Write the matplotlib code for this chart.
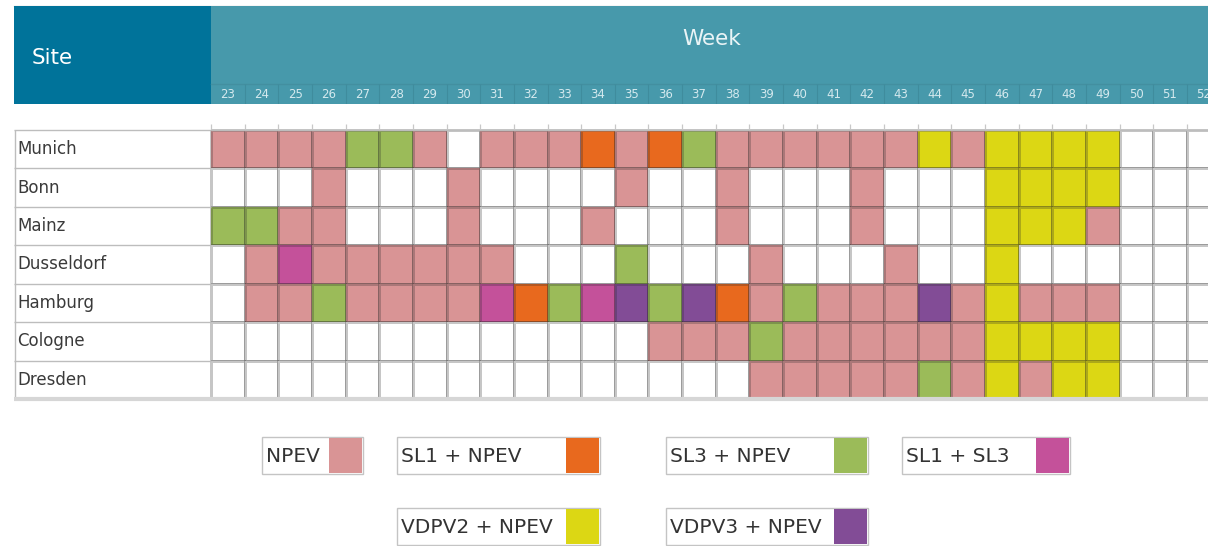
import numpy as np
import matplotlib
matplotlib.use("Agg")
import matplotlib.pyplot as plt
from matplotlib.colors import ListedColormap
from matplotlib.patches import Rectangle

plt.rcParams['font.family'] = ['DejaVu Sans']

# --- data -------------------------------------------------------------
weeks = list(range(23, 53))
sites = ["Munich", "Bonn", "Mainz", "Dusseldorf", "Hamburg", "Cologne", "Dresden"]

# codes: . none, N NPEV, O SL1+NPEV, G SL3+NPEV, M SL1+SL3, Y VDPV2+NPEV, P VDPV3+NPEV
# one character per week, weeks 23..52
munich     = "NNNNGGN.NNNONOGNNNNNNYNYYYY..."
bonn       = "...N...N....N..N...N...YYYY..."
mainz      = "GGNN...N...N...N...N...YYYN..."
dusseldorf = ".NMNNNNNN...G...N...N..Y......"
hamburg    = ".NNGNNNNMOGMPGPONGNNNPNYNNN..."
cologne    = ".............NNNGNNNNNNYYYY..."
dresden    = "................NNNNNGNYNYY..."

codes = ".NOGMYP"
category_labels = ["NPEV", "SL1 + NPEV", "SL3 + NPEV", "SL1 + SL3",
                   "VDPV2 + NPEV", "VDPV3 + NPEV"]
category_colors = ["#d99495", "#e8691e", "#9bbb59", "#c4519a",
                   "#dcd714", "#824c96"]

rows = [munich, bonn, mainz, dusseldorf, hamburg, cologne, dresden]
matrix = np.array([[codes.index(c) for c in r] for r in rows])

# --- layout -----------------------------------------------------------
W, H = 1208, 546
fig = plt.figure(figsize=(W / 100, H / 100), dpi=100)
fig.patch.set_facecolor("white")

col_px = 33.65
row_px = 38.43
x_left = 22.5 - (211 - 14) / col_px
x_right = 22.5 + (W - 211) / col_px

# background overlay in pixel coordinates (legend, frame)
bg = fig.add_axes([0, 0, 1, 1])
bg.set_xlim(0, W)
bg.set_ylim(H, 0)
bg.axis("off")
bg.axhline(5.5, xmin=14 / W, color="#d5d5d5", lw=1)

# header
hdr = fig.add_axes([14 / W, 1 - 104 / H, (W - 14) / W, 98 / H])
hdr.set_xlim(x_left, x_right)
hdr.set_ylim(0, 98)
hdr.axis("off")
hdr.axvspan(x_left, 22.5, color="#00739a", lw=0)
hdr.axvspan(22.5, x_right, color="#4799ab", lw=0)
hdr.axhline(20, xmin=(22.5 - x_left) / (x_right - x_left), color="#438fa0", lw=1)
hdr.vlines(np.array(weeks[:-1]) + 0.5, 0, 20, color="#3f8c9d", lw=0.8)
hdr.text(17.78, 46, "Site", color="white", fontsize=15.5, va="center", ha="center")
hdr.text(37.39, 65, "Week", color="#eaf4f6", fontsize=15.5, va="center", ha="center")
for w in weeks:
    hdr.text(w, 10, str(w), color="#d4e9ee", fontsize=8.5, ha="center", va="center")

# grid
top_px, bot_px = 124, 402
gax = fig.add_axes([14 / W, 1 - bot_px / H, (W - 14) / W, (bot_px - top_px) / H])
gax.set_xlim(x_left, x_right)
gax.set_ylim(6.5 + (bot_px - 399) / row_px, -0.5 - (130 - top_px) / row_px)
gax.axis("off")

cmap = ListedColormap(["white"] + category_colors)
xe = np.arange(22.5, 53.5, 1)
ye = np.arange(-0.5, 7.5, 1)
gax.pcolormesh(xe, ye, matrix, cmap=cmap, vmin=-0.5, vmax=6.5,
               edgecolors=(0.15, 0.15, 0.15, 0.26), linewidth=0.9)
gax.vlines(xe, -0.5 - (130 - top_px) / row_px, -0.5, color="#c8c8c8", lw=0.9)
gax.hlines(ye, x_left, 22.5, color="#bdbdbd", lw=1.0)
gax.hlines(-0.5, 22.5, x_right, color="#bdbdbd", lw=1.0)
gax.vlines(x_left + 0.02, -0.5, 6.5, color="#bdbdbd", lw=1.0)
gax.hlines(6.5, x_left, x_right, color="#d6d6d6", lw=3)
for i, s in enumerate(sites):
    gax.text(x_left + 0.1, i, s, color="#3a3a3a", fontsize=12, va="center", ha="left")

# legend
legend_boxes = [(262, 437, 101), (397, 437, 203), (666, 437, 202),
                (902, 437, 168), (397, 508, 203), (666, 508, 202)]
box_h, sw = 37, 34
for (x0, y0, bw), lab, col in zip(legend_boxes, category_labels, category_colors):
    bg.add_patch(Rectangle((x0, y0), bw, box_h, facecolor="white",
                           edgecolor="#c4c4c4", lw=1))
    bg.add_patch(Rectangle((x0 + bw - sw, y0 + 1), sw - 1, box_h - 2,
                           facecolor=col, edgecolor="none"))
    bg.text(x0 + 4, y0 + box_h / 2 + 1, lab, color="#333333", fontsize=14.5,
            va="center", ha="left")

fig.savefig("out.png", dpi=100)
